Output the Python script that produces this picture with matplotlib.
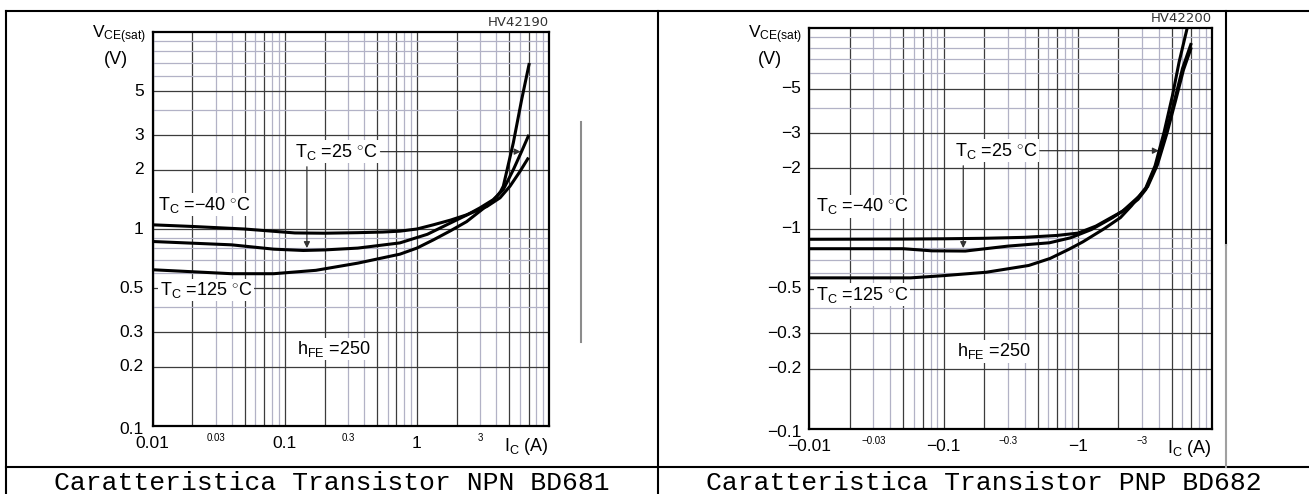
import matplotlib
matplotlib.use("Agg")
import matplotlib.pyplot as plt
from matplotlib.lines import Line2D
from matplotlib.ticker import NullLocator
import numpy as np

plt.rcParams['font.family'] = ['Liberation Sans', 'DejaVu Sans']
plt.rcParams['mathtext.fontset'] = 'custom'
plt.rcParams['mathtext.rm'] = 'Liberation Sans'
plt.rcParams['mathtext.it'] = 'Liberation Sans'

W, H = 1309, 494

# ---- NPN BD681 : Ic (A), Vce(sat) (V) ----
npn_ic_m40 = [0.01, 0.02, 0.0494, 0.08, 0.119, 0.2, 0.357, 0.55, 0.743, 1.0, 1.33, 1.8, 2.38, 3.38, 4.26, 5.07, 6.03, 6.9]
npn_v_m40 = [1.05, 1.03, 1.0, 0.975, 0.955, 0.952, 0.958, 0.965, 0.975, 1.0, 1.05, 1.11, 1.18, 1.30, 1.44, 1.65, 1.96, 2.27]
npn_ic_25 = [0.01, 0.0396, 0.0825, 0.138, 0.2, 0.357, 0.743, 1.2, 1.78, 2.4, 3.0, 3.79, 4.51, 5.37, 6.21, 6.97]
npn_v_25 = [0.864, 0.831, 0.79, 0.778, 0.783, 0.80, 0.85, 0.94, 1.07, 1.18, 1.28, 1.41, 1.585, 2.0, 2.48, 2.96]
npn_ic_125 = [0.01, 0.0396, 0.0825, 0.172, 0.357, 0.743, 1.0, 1.33, 1.8, 2.38, 3.18, 3.7, 4.02, 4.3, 4.51, 5.37, 6.21, 7.06]
npn_v_125 = [0.621, 0.593, 0.593, 0.617, 0.671, 0.745, 0.80, 0.88, 0.98, 1.09, 1.27, 1.38, 1.46, 1.55, 1.65, 2.74, 4.54, 6.84]

# ---- PNP BD682 : Ic (A), Vce(sat) (V) ----
pnp_ic_m40 = [-0.01, -0.05, -0.1, -0.2, -0.4, -0.7, -1.0, -1.36, -1.7, -2.14, -2.85, -3.3, -3.9, -4.6, -5.35, -6.1, -6.92]
pnp_v_m40 = [-0.885, -0.887, -0.89, -0.895, -0.905, -0.925, -0.95, -1.03, -1.12, -1.22, -1.45, -1.62, -2.08, -3.0, -4.4, -6.2, -7.9]
pnp_ic_25 = [-0.01, -0.05, -0.0815, -0.145, -0.3, -0.613, -0.88, -1.26, -1.81, -2.3, -2.8, -3.2, -3.8, -4.5, -5.25, -6.0, -6.92]
pnp_v_25 = [-0.794, -0.794, -0.775, -0.773, -0.818, -0.85, -0.90, -0.99, -1.135, -1.26, -1.40, -1.57, -2.06, -2.95, -4.4, -6.3, -8.3]
pnp_ic_125 = [-0.01, -0.0568, -0.101, -0.208, -0.43, -0.62, -0.86, -1.09, -1.57, -2.07, -2.5, -3.2, -3.75, -4.375, -5.05, -5.66, -6.53]
pnp_v_125 = [-0.568, -0.568, -0.583, -0.606, -0.655, -0.71, -0.79, -0.86, -1.0, -1.135, -1.3, -1.6, -2.06, -3.03, -4.61, -6.78, -10.15]

npn_yticks = [0.1, 0.2, 0.3, 0.5, 1, 2, 3, 5]
npn_ytick_labels = ['0.1', '0.2', '0.3', '0.5', '1', '2', '3', '5']
npn_xticks = [0.01, 0.03, 0.1, 0.3, 1, 3]
npn_xtick_labels = ['0.01', '0.03', '0.1', '0.3', '1', '3']
pnp_yticks = [-0.1, -0.2, -0.3, -0.5, -1, -2, -3, -5]
pnp_ytick_labels = ['\u22120.1', '\u22120.2', '\u22120.3', '\u22120.5', '\u22121', '\u22122', '\u22123', '\u22125']
pnp_xticks = [-0.01, -0.03, -0.1, -0.3, -1, -3]
pnp_xtick_labels = ['\u22120.01', '\u22120.03', '\u22120.1', '\u22120.3', '\u22121', '\u22123']
small_ticks = [0.03, 0.3, 3]

captions = ['Caratteristica Transistor NPN BD681', 'Caratteristica Transistor PNP BD682']
codes = ['HV42190', 'HV42200']

DARK = '#3c3c3c'
LIGHT = '#b2b2c6'


def px(x, y):
    return x / W, 1 - y / H


def draw_grid(ax):
    for d in [0.01, 0.1, 1]:
        for m in range(1, 10):
            c = DARK if m in (1, 2, 5, 7) else LIGHT
            ax.axvline(d * m, color=c, lw=0.9, zorder=1)
    for d in [0.1, 1]:
        for m in range(1, 10):
            c = DARK if m in (1, 2, 3, 5) else LIGHT
            ax.axhline(d * m, color=c, lw=0.9, zorder=1)


def draw_chart(ax, curves, xt, xtl, yt, ytl, ypad):
    ax.set_xscale('log')
    ax.set_yscale('log')
    ax.set_xlim(0.01, 10)
    ax.set_ylim(0.1, 10)
    for a in (ax.xaxis, ax.yaxis):
        a.set_major_locator(NullLocator())
        a.set_minor_locator(NullLocator())
    for s in ax.spines.values():
        s.set_linewidth(1.6)
    draw_grid(ax)
    for ic, v in curves:
        ax.plot(np.abs(ic), np.abs(v), color='black', lw=2.2, zorder=4,
                solid_joinstyle='round')
    for x, s in zip(xt, xtl):
        small = abs(x) in small_ticks
        ax.annotate(s, xy=(abs(x), 0), xycoords=('data', 'axes fraction'),
                    xytext=(0, -12 if small else -17), textcoords='offset pixels',
                    ha='center', va='center', fontsize=7 if small else 12.5)
    for y, s in zip(yt, ytl):
        off = -3 if abs(y) == 0.1 else 0
        ax.annotate(s, xy=(0, abs(y)), xycoords=('axes fraction', 'data'),
                    xytext=(-ypad, off), textcoords='offset pixels',
                    ha='right', va='center', fontsize=12.5)


def label(ax, x, y, s):
    ax.text(x, y, s, fontsize=13, ha='left', va='center', zorder=5,
            bbox=dict(facecolor='white', edgecolor='none', pad=1.0))


fig = plt.figure(figsize=(W / 100, H / 100), dpi=100)

# NPN axes: left 152.7, right 549, top 32, bottom 426 (px)
ax1 = fig.add_axes([152.7 / W, 1 - 426 / H, (549 - 152.7) / W, (426 - 32) / H])
draw_chart(ax1, [(npn_ic_m40, npn_v_m40), (npn_ic_25, npn_v_25), (npn_ic_125, npn_v_125)],
           npn_xticks, npn_xtick_labels, npn_yticks, npn_ytick_labels, 9)
label(ax1, 0.0110, 1.33, r'T$_\mathrm{C}$ =$-$40 $^{\circ}$C')
label(ax1, 0.0113, 0.49, r'T$_\mathrm{C}$ =125 $^{\circ}$C')
label(ax1, 0.1186, 2.47, r'T$_\mathrm{C}$ =25 $^{\circ}$C')
label(ax1, 0.1237, 0.246, r'h$_\mathrm{FE}$ =250')
ax1.annotate('', xy=(6.1, 2.47), xytext=(0.53, 2.47),
             arrowprops=dict(arrowstyle='-|>', lw=0.9, color='#333333', mutation_scale=9,
                             shrinkA=0, shrinkB=0), zorder=3)
ax1.annotate('', xy=(0.147, 0.80), xytext=(0.147, 2.07),
             arrowprops=dict(arrowstyle='-|>', lw=0.9, color='#333333', mutation_scale=9,
                             shrinkA=0, shrinkB=0), zorder=3)

# PNP axes: left 809.3, right 1212.3, top 28.3, bottom 429 (px)
ax2 = fig.add_axes([809.3 / W, 1 - 429 / H, (1212.3 - 809.3) / W, (429 - 28.3) / H])
draw_chart(ax2, [(pnp_ic_m40, pnp_v_m40), (pnp_ic_25, pnp_v_25), (pnp_ic_125, pnp_v_125)],
           pnp_xticks, pnp_xtick_labels, pnp_yticks, pnp_ytick_labels, 8)
label(ax2, 0.0112, 1.29, r'T$_\mathrm{C}$ =$-$40 $^{\circ}$C')
label(ax2, 0.0112, 0.469, r'T$_\mathrm{C}$ =125 $^{\circ}$C')
label(ax2, 0.1216, 2.45, r'T$_\mathrm{C}$ =25 $^{\circ}$C')
label(ax2, 0.126, 0.244, r'h$_\mathrm{FE}$ =250')
ax2.annotate('', xy=(4.0, 2.45), xytext=(0.52, 2.45),
             arrowprops=dict(arrowstyle='-|>', lw=0.9, color='#333333', mutation_scale=9,
                             shrinkA=0, shrinkB=0), zorder=3)
ax2.annotate('', xy=(0.14, 0.80), xytext=(0.14, 2.06),
             arrowprops=dict(arrowstyle='-|>', lw=0.9, color='#333333', mutation_scale=9,
                             shrinkA=0, shrinkB=0), zorder=3)

# labels outside the plot areas
for (vx, vy), (bx, by), (cx, cy), (ix, iy), code in [
        ((119, 35), (116, 60), (549, 22), (549, 446), codes[0]),
        ((775, 35), (770, 60), (1212, 19), (1212, 448), codes[1])]:
    fig.text(*px(vx, vy), r'V$_\mathrm{CE(sat)}$', fontsize=12.5, ha='center', va='center')
    fig.text(*px(bx, by), '(V)', fontsize=13, ha='center', va='center')
    fig.text(*px(cx, cy), code, fontsize=9.5, ha='right', va='center',
             family='DejaVu Sans', color='#333333')
    fig.text(*px(ix, iy), r'I$_\mathrm{C}$ (A)', fontsize=13, ha='right', va='center')


# table borders
def hline(y, x0, x1, color='black', lw=1.5):
    fig.add_artist(Line2D([x0 / W, x1 / W], [1 - y / H, 1 - y / H], color=color, lw=lw))


def vline(x, y0, y1, color='black', lw=1.5):
    fig.add_artist(Line2D([x / W, x / W], [1 - y0 / H, 1 - y1 / H], color=color, lw=lw))


hline(11, 6, W)
hline(467, 6, W)
vline(6, 11, H)
vline(658, 11, H)
vline(1226, 11, 245)
vline(1226, 245, 467, color='#a0a0a0')
vline(580.7, 122, 342, color='#8c8c8c')

# captions
fig.text(*px(332, 490), captions[0], family='Liberation Mono', fontsize=19,
         ha='center', va='baseline')
fig.text(*px(983.5, 490), captions[1], family='Liberation Mono', fontsize=19,
         ha='center', va='baseline')

fig.savefig('out.png', dpi=100)
